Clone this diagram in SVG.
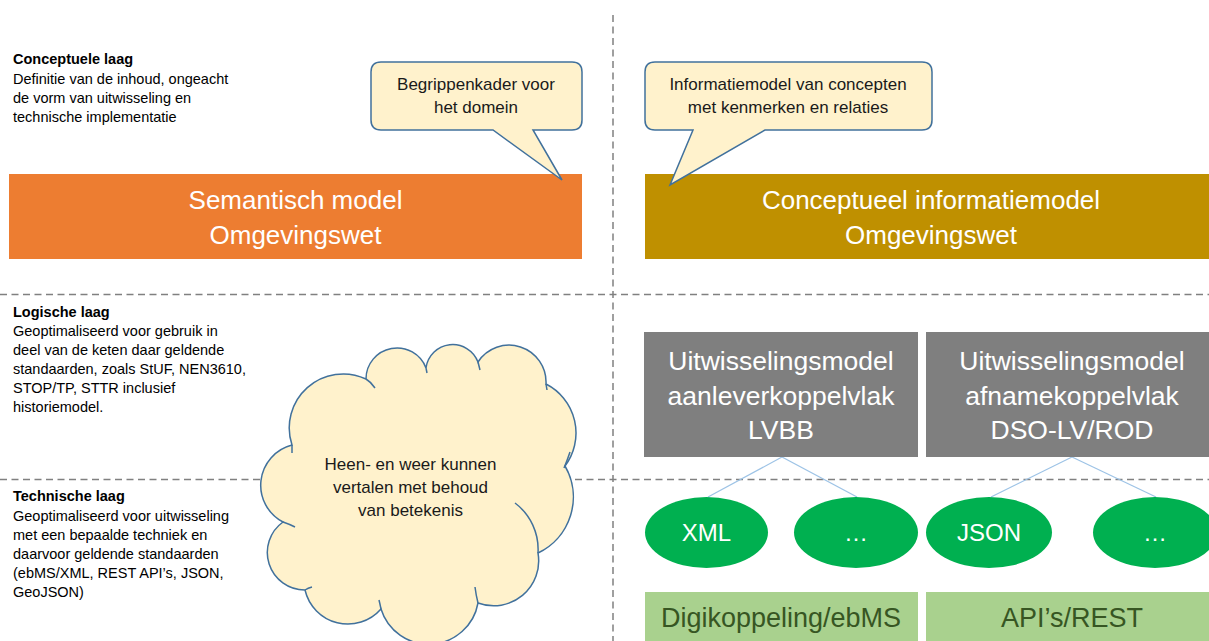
<svg xmlns="http://www.w3.org/2000/svg" width="1209" height="641" viewBox="0 0 1209 641">
<style>
text{font-family:"Liberation Sans",Arial,sans-serif;}
.lbl{font-size:14.5px;fill:#000;}
.hd{font-weight:bold;}
.big{font-size:26px;fill:#fff;text-anchor:middle;}
.gbig{font-size:26.5px;fill:#fff;text-anchor:middle;}
.ell{font-size:24px;fill:#fff;text-anchor:middle;}
.call{font-size:17px;fill:#1a1a1a;text-anchor:middle;}
.bub{fill:#FFF2CC;stroke:#41719C;stroke-width:1.5;}
.dash{stroke:#808080;stroke-width:1.5;stroke-dasharray:7 4.5;fill:none;}
.conn{stroke:#9DC3E6;stroke-width:1.2;fill:none;}
.gtxt{font-size:27px;fill:#375623;text-anchor:middle;}
</style>
<rect width="1209" height="641" fill="#fff"/>
<g id="grid">
<line class="dash" x1="613" y1="15" x2="613" y2="641"/>
<line class="dash" x1="0" y1="294.5" x2="1209" y2="294.5"/>
<line class="dash" x1="0" y1="479.5" x2="1209" y2="479.5"/>
</g>
<g id="layer-labels">
<text class="lbl"><tspan class="hd" x="13" y="64">Conceptuele laag</tspan><tspan x="13" y="84">Definitie van de inhoud, ongeacht</tspan><tspan x="13" y="103">de vorm van uitwisseling en</tspan><tspan x="13" y="122">technische implementatie</tspan></text>
<text class="lbl"><tspan class="hd" x="13" y="317">Logische laag</tspan><tspan x="13" y="336">Geoptimaliseerd voor gebruik in</tspan><tspan x="13" y="355">deel van de keten daar geldende</tspan><tspan x="13" y="374">standaarden, zoals StUF, NEN3610,</tspan><tspan x="13" y="393">STOP/TP, STTR inclusief</tspan><tspan x="13" y="412">historiemodel.</tspan></text>
<text class="lbl"><tspan class="hd" x="13" y="501">Technische laag</tspan><tspan x="13" y="521">Geoptimaliseerd voor uitwisseling</tspan><tspan x="13" y="540">met een bepaalde techniek en</tspan><tspan x="13" y="559">daarvoor geldende standaarden</tspan><tspan x="13" y="578">(ebMS/XML, REST API’s, JSON,</tspan><tspan x="13" y="597">GeoJSON)</tspan></text>
</g>
<g id="connectors">
<line class="conn" x1="782" y1="457" x2="708" y2="497"/>
<line class="conn" x1="782" y1="457" x2="857" y2="497"/>
<line class="conn" x1="1072" y1="457" x2="991" y2="497"/>
<line class="conn" x1="1072" y1="457" x2="1156" y2="497"/>
</g>
<g id="semantisch-model">
<rect x="9" y="174" width="573" height="85" fill="#ED7D31"/>
<text class="big"><tspan x="295.5" y="209">Semantisch model</tspan><tspan x="295.5" y="244">Omgevingswet</tspan></text>
</g>
<g id="conceptueel-informatiemodel">
<rect x="645" y="174" width="570" height="85" fill="#BF9000"/>
<text class="big"><tspan x="931" y="209">Conceptueel informatiemodel</tspan><tspan x="931" y="244">Omgevingswet</tspan></text>
</g>
<g id="callout-begrippenkader">
<path class="bub" d="M381,62 H572 Q582,62 582,72 V120 Q582,130 572,130 H533 L562,180 L493,130 H381 Q371,130 371,120 V72 Q371,62 381,62 Z"/>
<text class="call"><tspan x="476" y="90">Begrippenkader voor</tspan><tspan x="476" y="113">het domein</tspan></text>
</g>
<g id="callout-informatiemodel">
<path class="bub" d="M655,62 H922 Q932,62 932,72 V120 Q932,130 922,130 H765 L670,185 L693,130 H655 Q645,130 645,120 V72 Q645,62 655,62 Z"/>
<text class="call"><tspan x="788" y="90">Informatiemodel van concepten</tspan><tspan x="788" y="113">met kenmerken en relaties</tspan></text>
</g>
<g id="cloud">
<path class="bub" d="M292,445 A54,54 0 0 1 366,379 A31,31 0 0 1 426,368 A27,27 0 0 1 478,362 A37,37 0 0 1 546,384 A55,55 0 0 1 565,466 A62,62 0 0 1 538,553 A45,45 0 0 1 478,603 A50,50 0 0 1 381,609 A44,44 0 0 1 305,590 A37.5,37.5 0 0 1 283,522 A41.5,41.5 0 0 1 292,445 Z"/>
<path d="M366,379 Q371,382 375,388 M426,368 L427,373 M478,362 Q479,366 480,370 M546,384 L547,390 M570,452 Q567,461 564,468 M515,503 A58,58 0 0 1 538,553 M478,603 Q476,595 475,587 M381,609 Q380,604 379,600 M305,590 Q308,588 312,587 M283,522 Q289,524 295,527 M292,445 L292,453" fill="none" stroke="#41719C" stroke-width="1.5"/>
<text class="call"><tspan x="410.5" y="470">Heen- en weer kunnen</tspan><tspan x="410.5" y="493">vertalen met behoud</tspan><tspan x="410.5" y="516">van betekenis</tspan></text>
</g>
<g id="uitwisselingsmodel-lvbb">
<rect x="644" y="332" width="274" height="125" fill="#7F7F7F"/>
<text class="gbig"><tspan x="781" y="370">Uitwisselingsmodel</tspan><tspan x="781" y="405">aanleverkoppelvlak</tspan><tspan x="781" y="439">LVBB</tspan></text>
</g>
<g id="uitwisselingsmodel-dso">
<rect x="926" y="332" width="292" height="125" fill="#7F7F7F"/>
<text class="gbig"><tspan x="1072" y="370">Uitwisselingsmodel</tspan><tspan x="1072" y="405">afnamekoppelvlak</tspan><tspan x="1072" y="439">DSO-LV/ROD</tspan></text>
</g>
<g id="xml">
<ellipse cx="706.5" cy="532.5" rx="61.5" ry="35.5" fill="#00B050"/>
<text class="ell" x="706.5" y="541">XML</text>
</g>
<g id="etc1">
<ellipse cx="856" cy="532.5" rx="62" ry="35.5" fill="#00B050"/>
<text class="ell" x="856" y="541">…</text>
</g>
<g id="json">
<ellipse cx="989" cy="532.5" rx="63" ry="35.5" fill="#00B050"/>
<text class="ell" x="989" y="541">JSON</text>
</g>
<g id="etc2">
<ellipse cx="1155" cy="532.5" rx="62" ry="35.5" fill="#00B050"/>
<text class="ell" x="1155" y="541">…</text>
</g>
<g id="digikoppeling">
<rect x="645" y="592" width="273" height="60" fill="#A9D18E"/>
<text class="gtxt" x="781" y="627">Digikoppeling/ebMS</text>
</g>
<g id="api-rest">
<rect x="926" y="592" width="292" height="60" fill="#A9D18E"/>
<text class="gtxt" x="1072" y="627">API’s/REST</text>
</g>
</svg>
